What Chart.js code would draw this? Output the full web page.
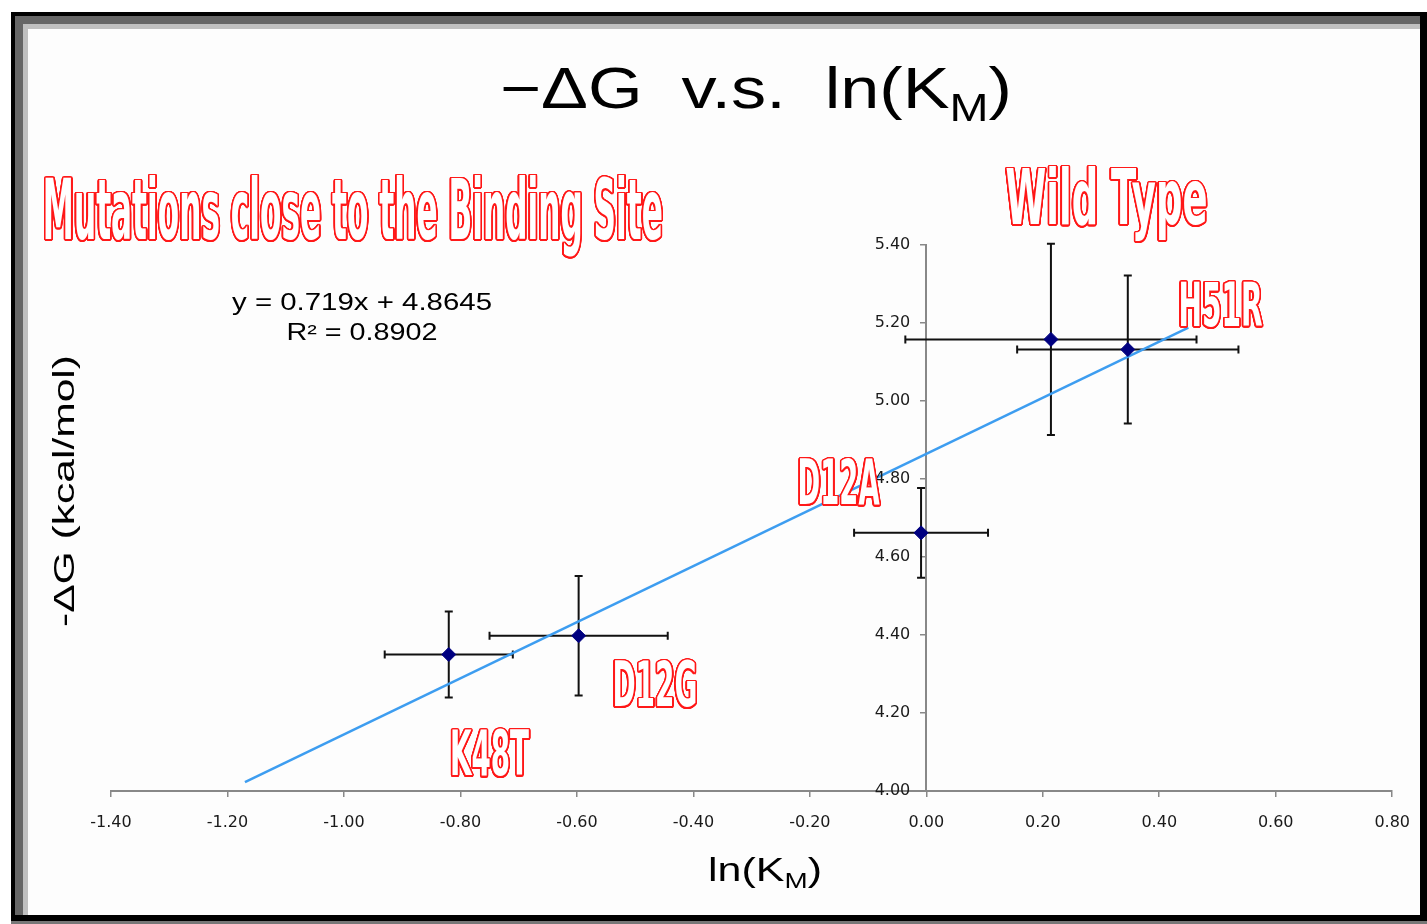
<!DOCTYPE html>
<html>
<head>
<meta charset="utf-8">
<title>-ΔG v.s. ln(KM)</title>
<script src="https://cdn.jsdelivr.net/npm/chart.js@4.4.1/dist/chart.umd.min.js"></script>
<style>
    html, body { margin: 0; padding: 0; background: #fff; width: 1427px; height: 924px; overflow: hidden; }
    #frame {
        position: absolute; left: 11px; top: 12px; width: 1416px; height: 909px;
        box-sizing: border-box; border-style: solid; border-color: #000; border-width: 4px 7px 6px 4px;
    }
    #shade1 { position: absolute; left: 0; top: 0; right: 0; bottom: 0; border-left: 8px solid #666; border-top: 8px solid #666; }
    #shade2 { position: absolute; left: 0; top: 0; right: 0; bottom: 0; border-left: 5px solid #c0c0c0; border-top: 5px solid #c0c0c0; background: #fdfdfd; }
    #bottom-strip { position: absolute; left: 11px; top: 921px; width: 1416px; height: 3px; background: #777; }
    #chart { position: absolute; left: 0; top: 0; }
</style>
</head>
<body>
<div id="frame"><div id="shade1"><div id="shade2"></div></div></div>
<div id="bottom-strip"></div>
<canvas id="chart" width="1427" height="924"></canvas>
<script>
// Datos
const mutants = ['K48T', 'D12G', 'D12A', 'Wild Type', 'H51R'];
const lnKm = [-0.82, -0.597, -0.009, 0.214, 0.346];
const negDG = [4.35, 4.398, 4.662, 5.158, 5.132];
const lnKmErr = [0.11, 0.153, 0.115, 0.25, 0.19];
const negDGErr = [0.11, 0.153, 0.115, 0.245, 0.19];

// Línea de tendencia (extremos)
const trendX = [-1.17, 0.45];
const trendY = [4.023, 5.188];

const xTickValues = [-1.4, -1.2, -1.0, -0.8, -0.6, -0.4, -0.2, 0.0, 0.2, 0.4, 0.6, 0.8];
const xTickLabels = ['-1.40', '-1.20', '-1.00', '-0.80', '-0.60', '-0.40', '-0.20', '0.00', '0.20', '0.40', '0.60', '0.80'];
const yTickValues = [4.0, 4.2, 4.4, 4.6, 4.8, 5.0, 5.2, 5.4];
const yTickLabels = ['4.00', '4.20', '4.40', '4.60', '4.80', '5.00', '5.20', '5.40'];

// Etiquetas rojas (posición en unidades de los ejes)
const callouts = [
    { text: 'Mutations close to the Binding Site', x: -1.517, y: 5.415, size: 84, width: 620 },
    { text: 'Wild Type', x: 0.136, y: 5.453, size: 76, width: 202 },
    { text: 'H51R', x: 0.433, y: 5.192, size: 61, width: 84 },
    { text: 'D12A', x: -0.221, y: 4.735, size: 62, width: 82 },
    { text: 'D12G', x: -0.539, y: 4.217, size: 62, width: 85 },
    { text: 'K48T', x: -0.818, y: 4.040, size: 62, width: 79 }
];

const SANS = '"Liberation Sans", Arial, sans-serif';
const HEAVY = '"DejaVu Sans", sans-serif';
const TICK_FONT = '16px "DejaVu Sans", sans-serif';

// Dibuja texto (con subíndices) ajustado a un ancho dado
function drawFitted(ctx, parts, x, y, size, width, align, family) {
    const sub = Math.round(size * 0.66);
    let total = 0;
    parts.forEach(p => {
        ctx.font = `${p[1] ? sub : size}px ${family}`;
        total += ctx.measureText(p[0]).width;
    });
    const s = width / total;
    ctx.save();
    ctx.translate(x, y);
    ctx.scale(s, 1);
    let cx = align === 'center' ? -total / 2 : 0;
    ctx.textAlign = 'left';
    parts.forEach(p => {
        ctx.font = `${p[1] ? sub : size}px ${family}`;
        ctx.fillText(p[0], cx, p[1] ? size * 0.22 : 0);
        cx += ctx.measureText(p[0]).width;
    });
    ctx.restore();
}

// Texto hueco tipo "Impact": contorno rojo uniforme con relleno blanco
function drawOutlined(ctx, text, px, py, size, width) {
    ctx.save();
    ctx.font = `bold ${size}px ${HEAVY}`;
    ctx.textAlign = 'left';
    ctx.textBaseline = 'alphabetic';
    const sx = width / ctx.measureText(text).width;
    const ring = (r, color) => {
        ctx.fillStyle = color;
        for (let k = 0; k < 24; k++) {
            const a = (k / 24) * Math.PI * 2;
            ctx.setTransform(sx, 0, 0, 1, px + r * Math.cos(a), py + r * Math.sin(a));
            ctx.fillText(text, 0, 0);
        }
    };
    ring(1.6, '#ff1a1a');
    ring(0.9, '#ff1a1a');
    ctx.fillStyle = '#ffffff';
    ctx.setTransform(sx, 0, 0, 1, px, py);
    ctx.fillText(text, 0, 0);
    ctx.restore();
}

const errorBars = {
    id: 'errorBars',
    beforeDatasetsDraw(chart) {
        const { ctx, scales: { x, y } } = chart;
        const cap = 4;
        ctx.save();
        ctx.strokeStyle = '#111';
        ctx.lineWidth = 2;
        lnKm.forEach((v, i) => {
            const px = x.getPixelForValue(v);
            const py = y.getPixelForValue(negDG[i]);
            const x0 = x.getPixelForValue(v - lnKmErr[i]);
            const x1 = x.getPixelForValue(v + lnKmErr[i]);
            const y0 = y.getPixelForValue(negDG[i] - negDGErr[i]);
            const y1 = y.getPixelForValue(negDG[i] + negDGErr[i]);
            ctx.beginPath();
            ctx.moveTo(x0, py); ctx.lineTo(x1, py);
            ctx.moveTo(x0, py - cap); ctx.lineTo(x0, py + cap);
            ctx.moveTo(x1, py - cap); ctx.lineTo(x1, py + cap);
            ctx.moveTo(px, y0); ctx.lineTo(px, y1);
            ctx.moveTo(px - cap, y0); ctx.lineTo(px + cap, y0);
            ctx.moveTo(px - cap, y1); ctx.lineTo(px + cap, y1);
            ctx.stroke();
        });
        ctx.restore();
    }
};

const textLayer = {
    id: 'textLayer',
    afterDraw(chart) {
        const { ctx, scales: { x, y } } = chart;
        ctx.save();
        ctx.fillStyle = '#000';
        ctx.textBaseline = 'alphabetic';

        // Título
        drawFitted(ctx, [['\u2212\u0394G  v.s.  ln(K', false], ['M', true], [')', false]], 500, 108, 57, 512, 'left', SANS);

        // Título eje X
        drawFitted(ctx, [['ln(K', false], ['M', true], [')', false]], 708, 881, 34, 114, 'left', SANS);

        // Título eje Y (girado)
        ctx.save();
        ctx.translate(74, 491);
        ctx.rotate(-Math.PI / 2);
        drawFitted(ctx, [['-\u0394G (kcal/mol)', false]], 0, 0, 30, 272, 'center', SANS);
        ctx.restore();

        // Ecuación de la tendencia
        drawFitted(ctx, [['y = 0.719x + 4.8645', false]], 362, 310, 23, 260, 'center', SANS);
        drawFitted(ctx, [['R\u00b2 = 0.8902', false]], 362, 340, 23, 151, 'center', SANS);

        // Etiquetas del eje Y, a la izquierda del eje en x = 0
        const axisX = x.getPixelForValue(0);
        ctx.font = TICK_FONT;
        ctx.fillStyle = '#1a1a1a';
        ctx.textAlign = 'right';
        ctx.textBaseline = 'middle';
        yTickValues.forEach((v, i) => {
            ctx.fillText(yTickLabels[i], axisX - 16, y.getPixelForValue(v));
        });

        // Etiquetas rojas huecas
        callouts.forEach(c => {
            drawOutlined(ctx, c.text, x.getPixelForValue(c.x), y.getPixelForValue(c.y), c.size, c.width);
        });
        ctx.restore();
    }
};

const ctx = document.getElementById('chart').getContext('2d');
new Chart(ctx, {
    type: 'scatter',
    data: {
        datasets: [
            {
                label: '-ΔG',
                data: lnKm.map((v, i) => ({ x: v, y: negDG[i] })),
                pointStyle: 'rectRot',
                pointRadius: 7,
                pointHoverRadius: 7,
                backgroundColor: '#000080',
                borderColor: '#000080',
                borderWidth: 1,
                order: 0
            },
            {
                type: 'line',
                label: 'Lineal',
                data: trendX.map((v, i) => ({ x: v, y: trendY[i] })),
                borderColor: '#3d9df0',
                borderWidth: 2.5,
                pointRadius: 0,
                fill: false,
                order: 1
            }
        ]
    },
    options: {
        responsive: false,
        animation: false,
        devicePixelRatio: 1,
        layout: { padding: { left: 111, right: 34, top: 245, bottom: 133 } },
        plugins: {
            legend: { display: false },
            title: { display: false },
            tooltip: { enabled: false }
        },
        scales: {
            x: {
                type: 'linear',
                position: { y: 4 },
                min: -1.4,
                max: 0.8,
                afterBuildTicks: s => { s.ticks = xTickValues.map(v => ({ value: v })); },
                ticks: {
                    callback: (v, i) => xTickLabels[i],
                    autoSkip: false,
                    maxRotation: 0,
                    padding: 17,
                    color: '#1a1a1a',
                    font: { family: '"DejaVu Sans", sans-serif', size: 16 }
                },
                grid: { drawOnChartArea: false, drawTicks: true, tickLength: 5, color: '#888', lineWidth: 1.5 },
                border: { display: true, color: '#888', width: 2 },
                title: { display: false }
            },
            y: {
                type: 'linear',
                position: { x: 0 },
                min: 4.0,
                max: 5.4,
                afterBuildTicks: s => { s.ticks = yTickValues.map(v => ({ value: v })); },
                ticks: { display: false },
                grid: { drawOnChartArea: false, drawTicks: true, tickLength: 5, color: '#888', lineWidth: 1.5 },
                border: { display: true, color: '#888', width: 2 },
                title: { display: false }
            }
        }
    },
    plugins: [errorBars, textLayer]
});
</script>
</body>
</html>
